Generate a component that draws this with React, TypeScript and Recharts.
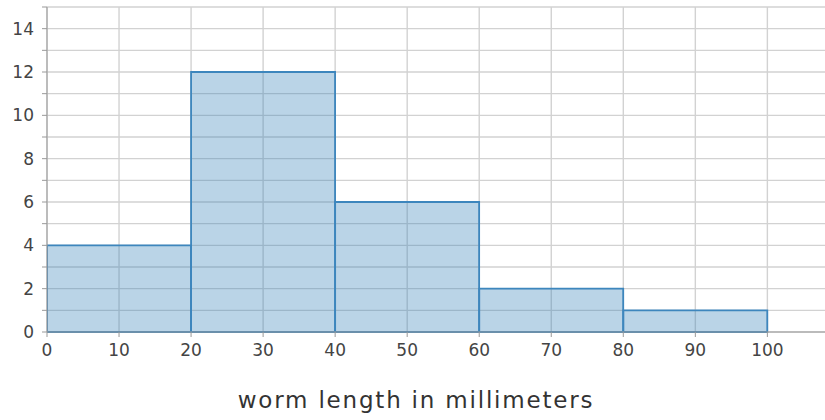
import { ComposedChart, Bar, XAxis, YAxis, CartesianGrid } from 'recharts';

// histogram bins (centre of each 20 mm bin) and worm counts
const binCentres = [10, 30, 50, 70, 90];
const counts = [4, 12, 6, 2, 1];

const xTicks = [0, 10, 20, 30, 40, 50, 60, 70, 80, 90, 100];
const yTicks = [0, 1, 2, 3, 4, 5, 6, 7, 8, 9, 10, 11, 12, 13, 14, 15];
const yGrid = yTicks;
const xLabel = 'worm length in millimeters';

const data = binCentres.map((mid, i) => ({ mid, count: counts[i] }));

const FONT = '"DejaVu Sans", Verdana, sans-serif';

export default function App() {
  return (
    <div style={{ position: 'absolute', left: 0, top: 0, width: 825, height: 420, background: '#fff' }}>
      <ComposedChart
        width={825}
        height={420}
        data={data}
        margin={{ top: 7, right: 0, bottom: 0, left: 0 }}
        barCategoryGap={0}
        barGap={0}
      >
        <CartesianGrid
          stroke="#d2d2d2"
          strokeWidth={1.4}
          horizontalValues={yGrid}
          verticalValues={xTicks}
        />
        <XAxis
          dataKey="mid"
          type="number"
          domain={[0, 108]}
          ticks={xTicks}
          allowDataOverflow
          height={88}
          tickSize={5}
          tickMargin={7}
          stroke="#999"
          tick={{ fill: '#444', fontSize: 17, fontFamily: FONT }}
          label={{
            value: xLabel,
            position: 'insideBottom',
            offset: 12,
            dx: -20,
            fill: '#333',
            fontSize: 23,
            fontFamily: FONT,
            letterSpacing: 1.8,
          }}
        />
        <YAxis
          type="number"
          domain={[0, 15]}
          ticks={yTicks}
          interval={0}
          width={47}
          tickSize={5}
          tickMargin={8}
          stroke="#999"
          tickFormatter={(v: number) => (v % 2 === 0 && v < 15 ? String(v) : '')}
          tick={{ fill: '#444', fontSize: 17, fontFamily: FONT }}
        />
        <Bar
          dataKey="count"
          fill="#3580b8"
          fillOpacity={0.34}
          stroke="#3d86bd"
          strokeWidth={1.8}
          isAnimationActive={false}
        />
      </ComposedChart>
    </div>
  );
}
